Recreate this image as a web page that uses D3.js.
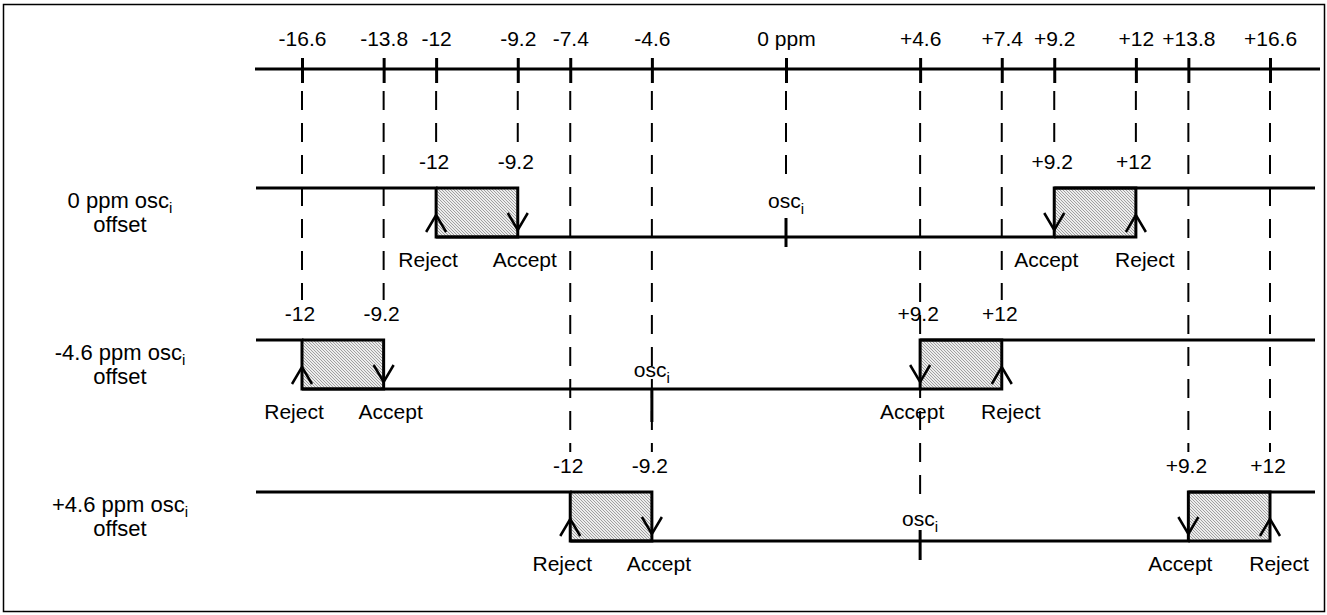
<!DOCTYPE html>
<html>
<head>
<meta charset="utf-8">
<script src="https://cdn.jsdelivr.net/npm/d3@7"></script>
<style>
  html, body { margin: 0; padding: 0; background: #fff; }
  svg { display: block; }
  text { font-family: "Liberation Sans", Arial, sans-serif; fill: #000; }
</style>
</head>
<body>
<svg id="chart" width="1327" height="615"></svg>
<script>
// ---------------- data ----------------
const tickValues = [-16.6, -13.8, -12, -9.2, -7.4, -4.6, 0, 4.6, 7.4, 9.2, 12, 13.8, 16.6];
const tickLabels = ["-16.6", "-13.8", "-12", "-9.2", "-7.4", "-4.6", "0 ppm", "+4.6", "+7.4", "+9.2", "+12", "+13.8", "+16.6"];
const rowOffsets = [0, -4.6, 4.6];
const rowNames = ["0 ppm osc", "-4.6 ppm osc", "+4.6 ppm osc"];
const rowSecond = ["offset", "offset", "offset"];
const acceptLimit = 9.2;
const rejectLimit = 12;
const boxLabels = ["-12", "-9.2", "+9.2", "+12"];
const edgeLabels = ["Reject", "Accept", "Accept", "Reject"];

// ---------------- layout ----------------
const W = 1327, H = 615;
const axisY = 69;
const rowTop = [188, 340, 492];
const rowH = 49;
const FS = "21px";
const oscLayout = [ // [label dy from bottom, tick from, tick to, guide end dy]
  [-36, -19, 10, -55],
  [-19, 0, 33, -35],
  [-22, -11, 19, -40]
];

const svg = d3.select("#chart");
const x = d3.scaleLinear().domain([-16.6, 16.6]).range([302, 1270]);

// border
svg.append("rect").attr("x", 3.5).attr("y", 4.5).attr("width", 1321).attr("height", 607)
  .attr("fill", "none").attr("stroke", "#000").attr("stroke-width", 1.5);

// hatch pattern
const defs = svg.append("defs");
const pat = defs.append("pattern").attr("id", "hatch").attr("patternUnits", "userSpaceOnUse")
  .attr("width", 3).attr("height", 3);
pat.append("rect").attr("width", 3).attr("height", 3).attr("fill", "#ececec");
pat.append("path").attr("d", "M-1,2 l2,2 M0,0 l3,3 M2,-1 l2,2")
  .attr("stroke", "#8c8c8c").attr("stroke-width", 0.8);

// top axis
const axis = d3.axisTop(x).tickValues(tickValues).tickFormat((d, i) => tickLabels[i]).tickSize(0).tickPadding(0);
const gAxis = svg.append("g").attr("transform", `translate(0,${axisY})`).call(axis);
gAxis.select(".domain").remove();
gAxis.append("line").attr("x1", 255).attr("x2", 1320).attr("y1", 0).attr("y2", 0)
  .attr("stroke", "#000").attr("stroke-width", 3);
gAxis.selectAll(".tick").append("line").attr("y1", -11).attr("y2", 14)
  .attr("stroke", "#000").attr("stroke-width", 3);
gAxis.selectAll(".tick text").attr("y", -30).attr("dy", "0.35em")
  .style("font-size", FS).style("font-family", "'Liberation Sans', Arial, sans-serif").attr("fill", "#000");

// determine which row each guide ends at
function rowFeatures(off) {
  return [off - rejectLimit, off - acceptLimit, off, off + acceptLimit, off + rejectLimit].map(v => +v.toFixed(2));
}
const guideEnd = tickValues.map(v => {
  let last = -1, kind = null;
  rowOffsets.forEach((off, r) => {
    const f = rowFeatures(off);
    const idx = f.indexOf(+v.toFixed(2));
    if (idx >= 0) { last = r; kind = idx === 2 ? "osc" : "box"; }
  });
  return { row: last, kind };
});

// dashed guide lines
svg.append("g").selectAll("line").data(tickValues).join("line")
  .attr("x1", d => x(d)).attr("x2", d => x(d))
  .attr("y1", axisY + 22)
  .attr("y2", (d, i) => {
    const g = guideEnd[i];
    const top = rowTop[g.row];
    if (g.kind === "osc") return top + rowH + oscLayout[g.row][3];
    return top - 40;
  })
  .attr("stroke", "#000").attr("stroke-width", 2).attr("stroke-dasharray", "19,13");

// rows
rowOffsets.forEach((off, r) => {
  const top = rowTop[r], bot = top + rowH;
  const g = svg.append("g");
  const xL1 = x(off - rejectLimit), xL2 = x(off - acceptLimit);
  const xR1 = x(off + acceptLimit), xR2 = x(off + rejectLimit);

  // hatched boxes
  [[xL1, xL2], [xR1, xR2]].forEach(([a, b]) => {
    g.append("rect").attr("x", a).attr("y", top).attr("width", b - a).attr("height", rowH)
      .attr("fill", "url(#hatch)");
  });

  // signal line
  const pts = [[x(-16.6) - 46, top], [xL1, top], [xL1, bot], [xR1, bot], [xR1, top], [x(16.6) + 45, top]];
  g.append("path").attr("d", d3.line()(pts)).attr("fill", "none").attr("stroke", "#000").attr("stroke-width", 3);
  // box outlines
  [[xL1, xL2], [xR1, xR2]].forEach(([a, b]) => {
    g.append("path").attr("d", d3.line()([[a, top], [b, top], [b, bot], [a, bot]]))
      .attr("fill", "none").attr("stroke", "#000").attr("stroke-width", 3);
  });

  // arrows: up at reject edges, down at accept edges
  const up = xx => [[xx - 10, top + 44], [xx, top + 27], [xx + 10, top + 44]];
  const down = xx => [[xx - 10, top + 25], [xx, top + 42], [xx + 10, top + 25]];
  [up(xL1), down(xL2), down(xR1), up(xR2)].forEach(p => {
    g.append("path").attr("d", d3.line()(p)).attr("fill", "none").attr("stroke", "#000").attr("stroke-width", 2.5);
  });

  // box value labels
  [xL1, xL2, xR1, xR2].forEach((xx, i) => {
    g.append("text").attr("x", xx - 2).attr("y", top - 26).attr("dy", "0.35em")
      .attr("text-anchor", "middle").style("font-size", FS).text(boxLabels[i]);
  });
  // reject / accept labels
  const shifts = [-8, 7, -8, 9];
  [xL1, xL2, xR1, xR2].forEach((xx, i) => {
    g.append("text").attr("x", xx + shifts[i]).attr("y", bot + 23).attr("dy", "0.35em")
      .attr("text-anchor", "middle").style("font-size", FS).text(edgeLabels[i]);
  });

  // osc marker
  const xo = x(off), ol = oscLayout[r];
  g.append("line").attr("x1", xo).attr("x2", xo).attr("y1", bot + ol[1]).attr("y2", bot + ol[2])
    .attr("stroke", "#000").attr("stroke-width", 3);
  const ot = g.append("text").attr("x", xo).attr("y", bot + ol[0]).attr("dy", "0.35em")
    .attr("text-anchor", "middle").style("font-size", FS);
  ot.append("tspan").text("osc");
  ot.append("tspan").attr("dy", "6").style("font-size", "15px").text("i");

  // row name
  const nt = g.append("text").attr("x", 120).attr("y", top + 12).attr("dy", "0.35em")
    .attr("text-anchor", "middle").style("font-size", "22px");
  nt.append("tspan").text(rowNames[r]);
  nt.append("tspan").attr("dy", "5").style("font-size", "15px").text("i");
  g.append("text").attr("x", 120).attr("y", top + 36).attr("dy", "0.35em")
    .attr("text-anchor", "middle").style("font-size", "22px").text(rowSecond[r]);
});
</script>
</body>
</html>
